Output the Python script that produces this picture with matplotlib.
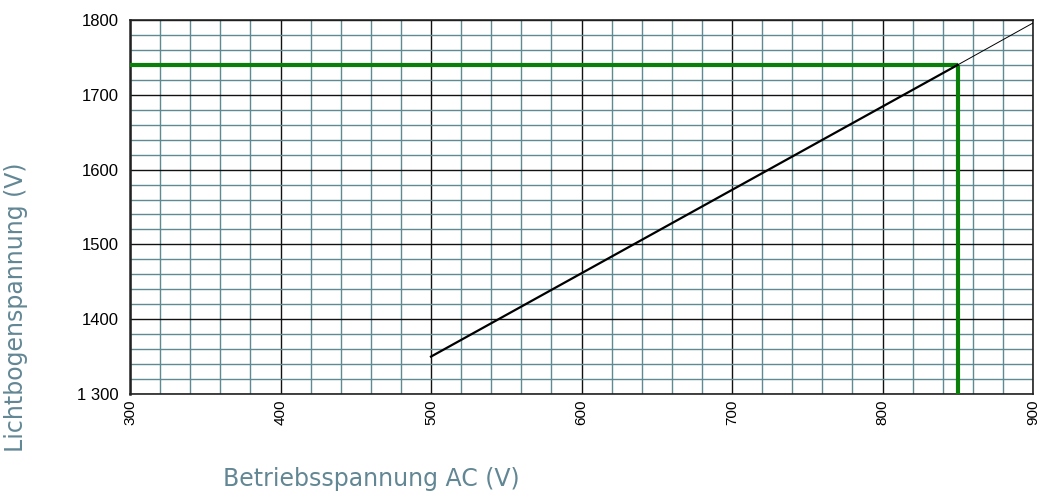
import matplotlib
matplotlib.use("Agg")
import matplotlib.pyplot as plt
import numpy as np

# Data
x_line = [500, 850]
y_line = [1350, 1740]
x_ext = [850, 900]
y_ext = [1740, 1796]
op_x = 850
op_y = 1740
x_ticks = [300, 400, 500, 600, 700, 800, 900]
y_ticks = [1300, 1400, 1500, 1600, 1700, 1800]
y_tick_labels = ["1 300", "1400", "1500", "1600", "1700", "1800"]

fig = plt.figure(figsize=(10.4, 4.92), dpi=100)
ax = fig.add_axes([130/1040, 1-394/492, (1033-130)/1040, (394-20)/492])
ax.set_xlim(300, 900)
ax.set_ylim(1300, 1800)

ax.set_xticks(x_ticks)
ax.set_xticklabels([str(v) for v in x_ticks], rotation=90, fontsize=11, family="Liberation Sans")
ax.set_yticks(y_ticks)
ax.set_yticklabels(y_tick_labels, fontsize=12, family="Liberation Sans")
ax.set_xticks(np.arange(300, 901, 20), minor=True)
ax.set_yticks(np.arange(1300, 1801, 20), minor=True)
ax.tick_params(which="both", length=0, pad=4)
ax.tick_params(axis="y", pad=8)
ax.grid(which="minor", color="#5f8a91", linewidth=1.0)
ax.grid(which="major", color="#111111", linewidth=1.0)
ax.set_axisbelow(True)
for s in ax.spines.values():
    s.set_color("#222222")
    s.set_linewidth(1.2)
ax.spines["left"].set_linewidth(1.8)

ax.plot([300, op_x], [op_y, op_y], color="#0a800a", linewidth=3, solid_capstyle="butt", zorder=3)
ax.plot([op_x, op_x], [1300, op_y], color="#0a800a", linewidth=3, solid_capstyle="butt", zorder=3)
ax.plot(x_line, y_line, color="black", linewidth=1.6, zorder=4)
ax.plot(x_ext, y_ext, color="black", linewidth=0.7, zorder=4)

lab_color = "#628794"
fig.text(16/1040, 1-307/492, "Lichtbogenspannung (V)", rotation=90, ha="center", va="center",
         fontsize=17, color=lab_color, family="DejaVu Sans")
fig.text(371/1040, 1-479/492, "Betriebsspannung AC (V)", ha="center", va="center",
         fontsize=17, color=lab_color, family="DejaVu Sans")

fig.savefig("out.png", dpi=100)
